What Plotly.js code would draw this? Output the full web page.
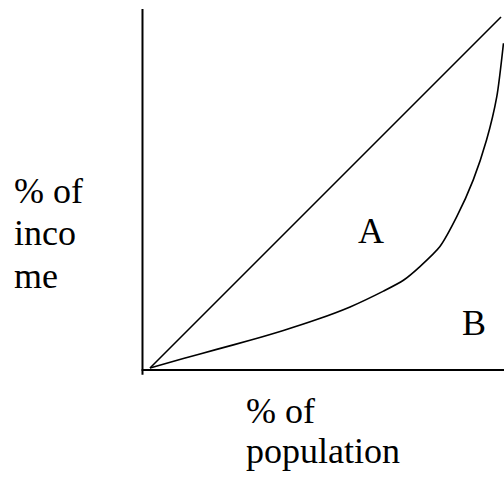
<!DOCTYPE html>
<html>
<head>
<meta charset="utf-8">
<script src="https://cdn.plot.ly/plotly-3.0.1.min.js"></script>
<style>html,body{margin:0;padding:0;background:#fff;}#chart{width:504px;height:478px;}</style>
</head>
<body>
<div id="chart"></div>
<script>
// Lorenz curve data (percent of population vs percent of income)
const population = [0, 9.5, 19.0, 28.5, 38.0, 47.5, 57.0, 66.5, 72.2, 76.9, 82.6, 87.4, 92.1, 95.9, 98.8, 100.7];
const income     = [0, 2.7, 5.3, 7.9, 10.7, 13.8, 17.4, 21.9, 25.0, 28.9, 34.6, 43.1, 53.6, 65.0, 77.3, 92.5];
const equalityX  = [0, 100];
const equalityY  = [0, 100];
const yLabelLines = ['% of', 'inco', 'me'];
const xLabelLines = ['% of', 'population'];
const areaLabels  = ['A', 'B'];

const FAMILY = 'serif';
function mkFont() { return {family: FAMILY, size: 36, color: '#000'}; }

const traces = [
  {x: equalityX, y: equalityY, mode: 'lines', line: {color: '#000', width: 1.6}, hoverinfo: 'skip'},
  {x: population, y: income, mode: 'lines', line: {color: '#000', width: 1.6, shape: 'spline', smoothing: 0.7}, hoverinfo: 'skip'}
];

const ann = [];
const yl = [50.4, 38.5, 26.2];
yLabelLines.forEach((t, i) => ann.push({x: -39.2, y: yl[i], text: t, xanchor: 'left', yanchor: 'middle', showarrow: false, font: mkFont()}));
const xl = [-12.25, -23.65];
xLabelLines.forEach((t, i) => ann.push({x: 26.9, y: xl[i], text: t, xanchor: 'left', yanchor: 'middle', showarrow: false, font: mkFont()}));
ann.push({x: 63.1, y: 39.0, text: areaLabels[0], xanchor: 'center', yanchor: 'middle', showarrow: false, font: mkFont()});
ann.push({x: 92.2, y: 12.7, text: areaLabels[1], xanchor: 'center', yanchor: 'middle', showarrow: false, font: mkFont()});

const layout = {
  width: 504, height: 478,
  margin: {l: 0, r: 0, t: 0, b: 0, pad: 0},
  paper_bgcolor: '#fff', plot_bgcolor: '#fff',
  showlegend: false,
  xaxis: {range: [-42.735, 100.855], visible: false, fixedrange: true},
  yaxis: {range: [-31.34, 104.84], visible: false, fixedrange: true},
  shapes: [
    {type: 'line', x0: -2.14, x1: -2.14, y0: -1.9, y1: 102.3, line: {color: '#000', width: 2}},
    {type: 'line', x0: -2.4, x1: 101, y0: -0.57, y1: -0.57, line: {color: '#000', width: 2}}
  ],
  annotations: ann
};

Plotly.newPlot('chart', traces, layout, {displayModeBar: false, staticPlot: true});
</script>
</body>
</html>
